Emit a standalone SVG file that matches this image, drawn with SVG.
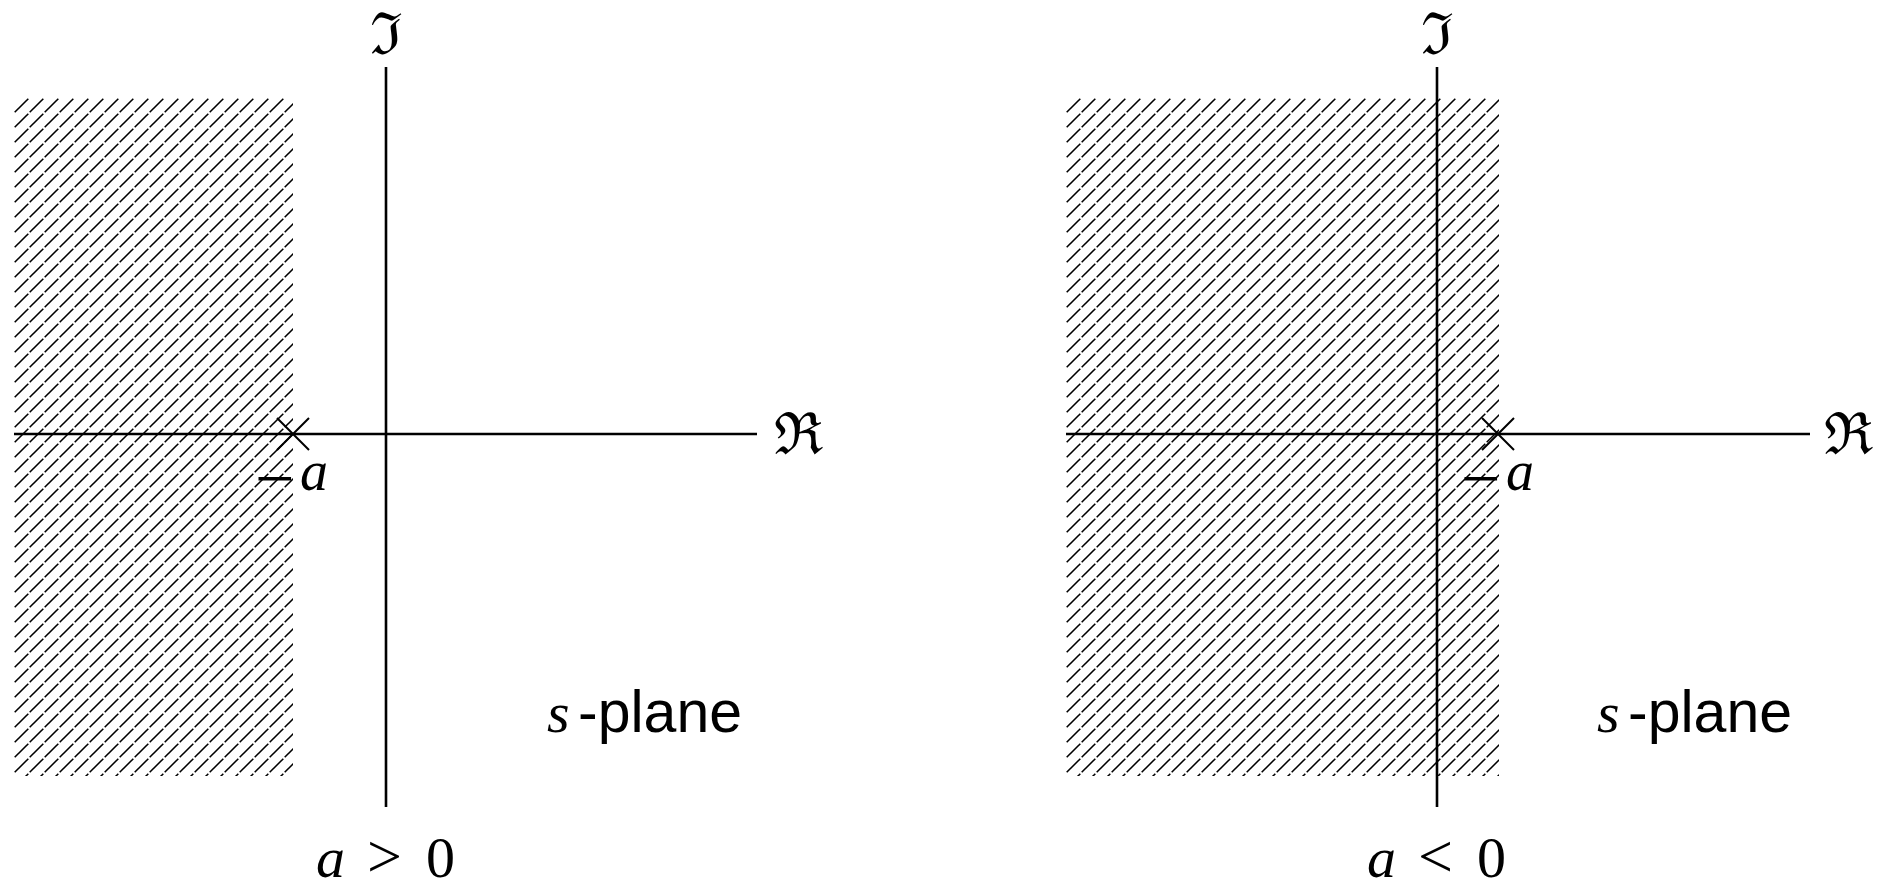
<svg xmlns="http://www.w3.org/2000/svg" width="1882" height="888" viewBox="0 0 1882 888">
<style>
.axis{stroke:#000;stroke-width:2.6;fill:none}
.pole{stroke:#000;stroke-width:2;fill:none}
.mi{font-family:"Liberation Serif",serif;font-style:italic;fill:#000}
.rm{font-family:"Liberation Serif",serif;fill:#000}
.frak{font-family:"DejaVu Serif",serif;fill:#000}
.sans{font-family:"Liberation Sans",Arial,sans-serif;fill:#000}
</style>
<defs>
<pattern id="hatchL" patternUnits="userSpaceOnUse" x="14" y="98" width="15" height="15">
<path d="M0.7,14.3 L14.3,0.7" stroke="#000" stroke-width="1.6"/>
</pattern>
<pattern id="hatchR" patternUnits="userSpaceOnUse" x="1066" y="98" width="15" height="15">
<path d="M0.7,14.3 L14.3,0.7" stroke="#000" stroke-width="1.6"/>
</pattern>
</defs>
<rect width="1882" height="888" fill="#fff"/>

<g id="left-plane">
<rect id="left-region" x="14" y="98" width="279" height="678" fill="url(#hatchL)"/>
<line class="axis" x1="386" y1="67" x2="386" y2="807"/>
<line class="axis" x1="14" y1="434" x2="757" y2="434"/>
<text class="frak" x="386" y="54" font-size="58" text-anchor="middle">ℑ</text>
<text class="frak" x="774" y="454" font-size="58">ℜ</text>
<g id="left-pole">
<path class="pole" d="M277,418 L309,450 M277,450 L309,418"/>
</g>
<text class="rm" x="255" y="502" font-size="70">−</text>
<text class="mi" x="300" y="490" font-size="56">a</text>
<text class="mi" x="547" y="732" font-size="58">s</text>
<text class="sans" x="578" y="732" font-size="59">-plane</text>
<text class="mi" x="316" y="877" font-size="58">a</text>
<text class="rm" x="367" y="877" font-size="62">&gt;</text>
<text class="rm" x="426" y="877" font-size="58">0</text>
</g>

<g id="right-plane">
<rect id="right-region" x="1066" y="98" width="433" height="678" fill="url(#hatchR)"/>
<line class="axis" x1="1437" y1="67" x2="1437" y2="807"/>
<line class="axis" x1="1066" y1="434" x2="1810" y2="434"/>
<text class="frak" x="1437" y="54" font-size="58" text-anchor="middle">ℑ</text>
<text class="frak" x="1824" y="454" font-size="58">ℜ</text>
<g id="right-pole">
<path class="pole" d="M1482,418 L1514,450 M1482,450 L1514,418"/>
</g>
<text class="rm" x="1461" y="502" font-size="70">−</text>
<text class="mi" x="1506" y="490" font-size="56">a</text>
<text class="mi" x="1597" y="732" font-size="58">s</text>
<text class="sans" x="1628" y="732" font-size="59">-plane</text>
<text class="mi" x="1367" y="877" font-size="58">a</text>
<text class="rm" x="1418" y="877" font-size="62">&lt;</text>
<text class="rm" x="1477" y="877" font-size="58">0</text>
</g>
</svg>
